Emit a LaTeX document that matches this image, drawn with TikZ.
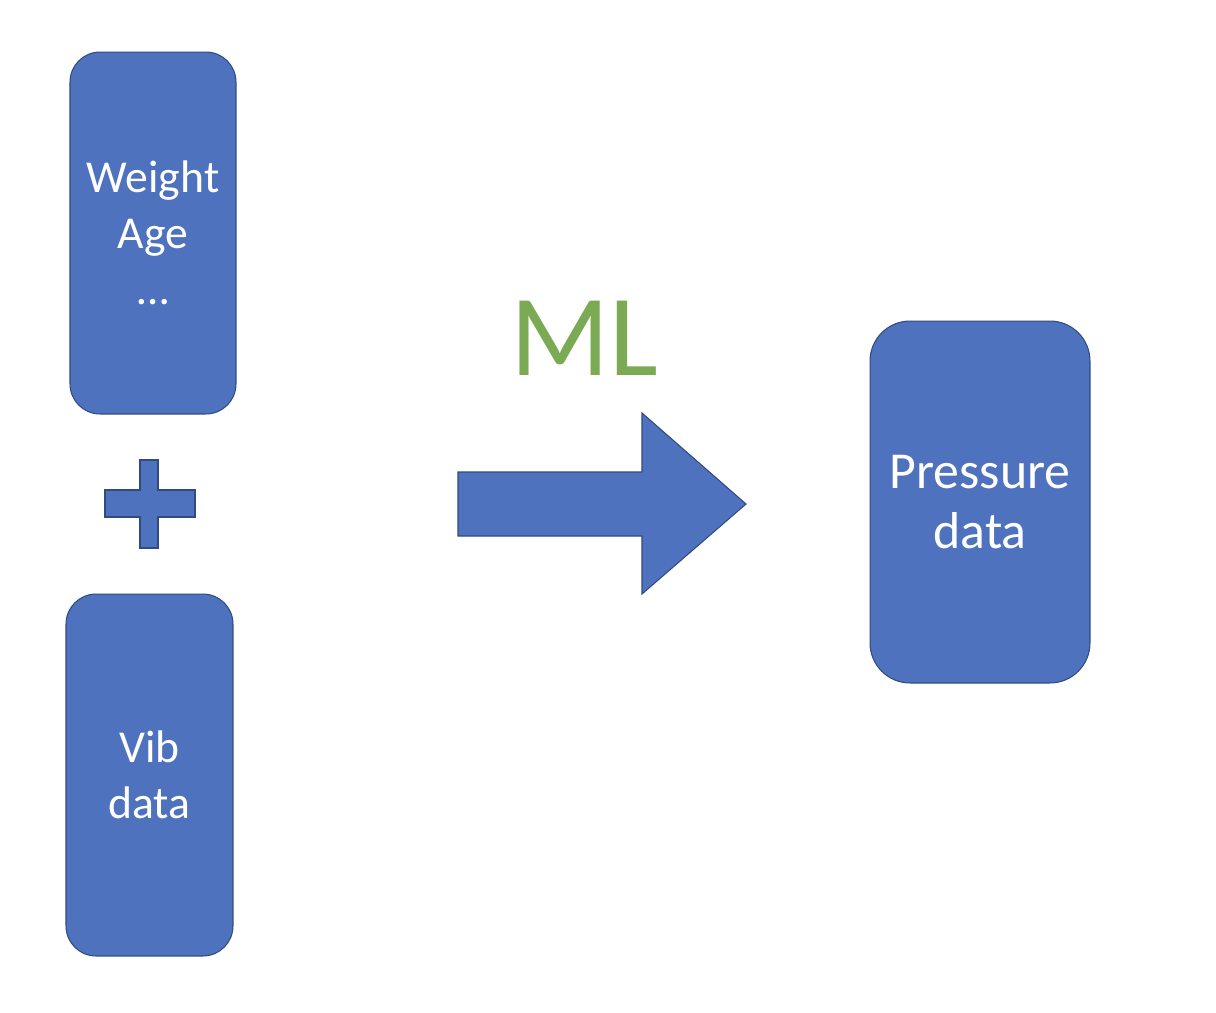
\documentclass[tikz,border=0pt]{standalone}
\usepackage{fontspec}
\setmainfont{Carlito}
\usetikzlibrary{positioning}

\definecolor{boxblue}{HTML}{4F72BE}
\definecolor{boxline}{HTML}{2F4B7F}
\definecolor{mlgreen}{HTML}{7BAA55}

\tikzset{
  databox/.style={draw=boxline, fill=boxblue, line width=0.6pt, text=white,
    align=center, inner sep=0pt, minimum height=7.24cm},
}

\begin{document}
\begin{tikzpicture}[x=0.02cm, y=-0.02cm]
      \useasboundingbox (0, 0) rectangle (1216, 1012);

      \node[databox, rounded corners=0.6cm, minimum width=3.32cm,
        font=\fontsize{26}{32}\selectfont] (weight) at (153, 233) {Weight\\Age\\…};
      \node[databox, rounded corners=0.6cm, minimum width=3.34cm,
        font=\fontsize{26}{32}\selectfont] (vib) at (149.5, 775) {Vib\\data};
      \node[databox, rounded corners=0.8cm, minimum width=4.4cm,
        font=\fontsize{29.5}{34}\selectfont] (pressure) at (980, 502) {Pressure\\data};

      \node[text=mlgreen, inner sep=0pt, font=\fontsize{66}{66}\selectfont] (ml) at (584, 338) {ML};

      % plus sign
      \draw[draw=boxline, fill=boxblue, line width=0.6pt]
        (140, 460) -- (158, 460) -- (158, 490) -- (195, 490) -- (195, 517) -- (158, 517)
        -- (158, 548) -- (140, 548) -- (140, 517) -- (105, 517) -- (105, 490) -- (140, 490) -- cycle;

      % block arrow
      \draw[draw=boxline, fill=boxblue, line width=0.6pt]
        (458, 472) -- (642, 472) -- (642, 413) -- (746, 504) -- (642, 594) -- (642, 536) -- (458, 536) -- cycle;
    \end{tikzpicture}
\end{document}
